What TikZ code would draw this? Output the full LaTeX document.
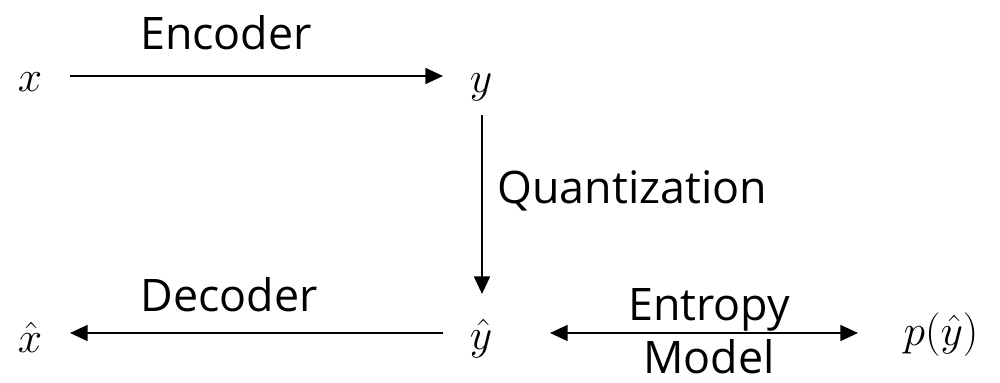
\documentclass[tikz,border=0pt]{standalone}
\usepackage{fontspec}
\setmainfont{Open Sans}
\usetikzlibrary{arrows.meta}
\begin{document}
\begin{tikzpicture}[x=0.02cm,y=-0.02cm,
  lbl/.style={font=\fontsize{25.5}{30}\selectfont, inner sep=0pt},
  var/.style={font=\fontsize{32}{36}\selectfont, inner sep=0pt},
  arr/.style={line width=1.3pt, -{Triangle[length=10pt,width=9pt]}},
  darr/.style={line width=1.3pt, {Triangle[length=10pt,width=9pt]}-{Triangle[length=10pt,width=9pt]}}]
\useasboundingbox (0,0) rectangle (1000,382);
% variables
\node[var] (x) at (30,82) {$x$};
\node[var] (y) at (481,87) {$y$};
\node[var] (xh) at (30,337) {$\hat{x}$};
\node[var] (yh) at (481,339) {$\hat{y}$};
\node[var] (p) at (941,335) {$p(\hat{y})$};
% labels
\node[lbl] (enc) at (226,33) {Encoder};
\node[lbl] (dec) at (229,295) {Decoder};
\node[lbl, anchor=west] (quant) at (497,191) {Quantization};
\node[lbl] (ent) at (709,310) {Entropy};
\node[lbl] (mod) at (709,357) {Model};
% connector ends
\coordinate (e1) at (70,76);
\coordinate (e2) at (443,76);
\coordinate (q1) at (482,115);
\coordinate (q2) at (482,294);
\coordinate (d1) at (443,333);
\coordinate (d2) at (70,333);
\coordinate (m1) at (550,333);
\coordinate (m2) at (858,333);
\draw[arr] (e1) -- (e2);
\draw[arr] (q1) -- (q2);
\draw[arr] (d1) -- (d2);
\draw[darr] (m1) -- (m2);
\end{tikzpicture}
\end{document}
